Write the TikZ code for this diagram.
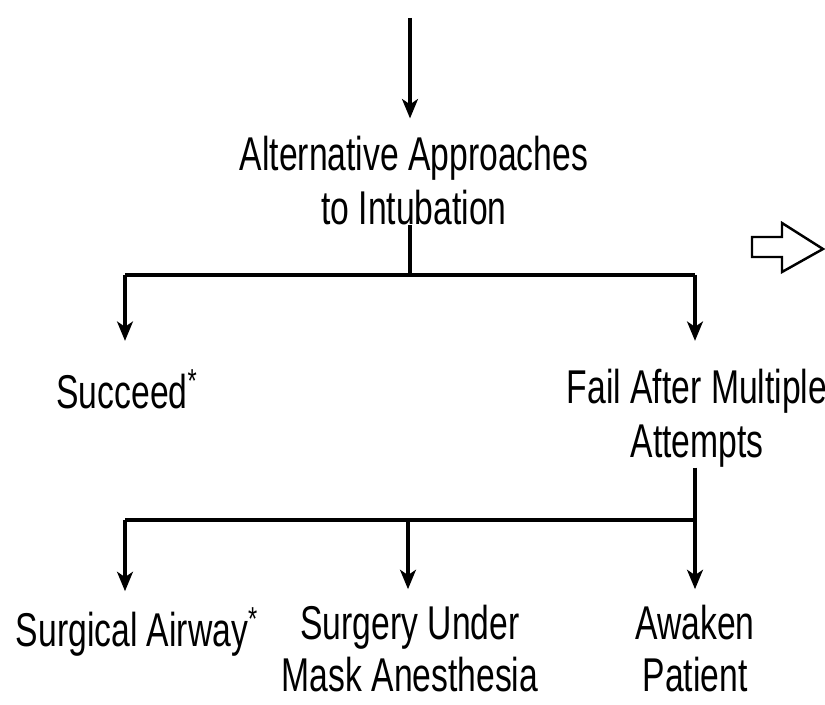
\documentclass[tikz,border=0pt]{standalone}
\usepackage{fontspec}
\setmainfont{Liberation Sans}[FakeStretch=0.71]
\usetikzlibrary{arrows.meta}

\begin{document}
\begin{tikzpicture}
      [x=.02cm,y=-.02cm
      ,lbl/.style={align=center,font=\fontsize{27}{30.6}\selectfont,inner sep=0pt}
      ,lin/.style={line width=2.2pt}
      ,arr/.style={lin,-{Stealth[length=11pt,width=9pt,inset=3pt]},shorten >=16pt}
      ,hollow/.style={line width=1.4pt,line join=miter}
      ]
        \useasboundingbox (0,0) rectangle (825,705);
        \node[lbl,anchor=north] (alt) at (414,136) {Alternative Approaches\\to Intubation};
        \node[lbl,anchor=north] (suc) at (127,369) {Succeed\textsuperscript{*}};
        \node[lbl,anchor=north] (fail) at (697,369) {Fail After Multiple\\Attempts};
        \node[lbl,anchor=north] (surg) at (137,607) {Surgical Airway\textsuperscript{*}};
        \node[lbl,anchor=north,font=\fontsize{27}{29.5}\selectfont] (mask) at (410,605) {Surgery Under\\Mask Anesthesia};
        \node[lbl,anchor=north,font=\fontsize{27}{29.5}\selectfont] (awake) at (695,605) {Awaken\\Patient};
        \coordinate (top) at (410,18);
        \coordinate (j1) at (410,275);
        \coordinate (j2) at (695,520);
        % first branch
        \draw[arr,shorten >=10pt] (top) -- (top |- alt.north);
        \draw[lin] (j1 |- alt.south) -- (j1);
        \draw[lin] (125,275) -- (j1 -| j2);
        \draw[arr] (125,275) -- (125,0 |- suc.north);
        \draw[arr] (j1 -| j2) -- (j2 |- fail.north);
        % second branch
        \draw[lin] (j2 |- fail.south) -- (j2);
        \draw[lin] (125,520) -- (j2);
        \foreach \n/\x in {surg/125,mask/408,awake/695}{
          \draw[arr,shorten >=9pt] (\x,520) -- (\x,0 |- \n.north);
        }
        % outline arrow at the right
        \draw[hollow] (752,237) -- (782,237) -- (782,223) -- (823,249)
          -- (782,272) -- (782,257) -- (752,257) -- cycle;
      \end{tikzpicture}
\end{document}
